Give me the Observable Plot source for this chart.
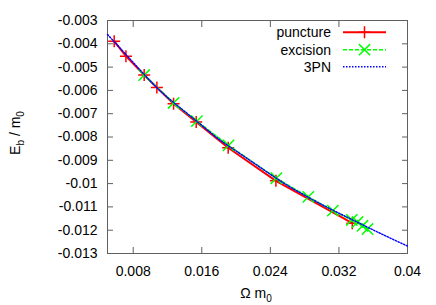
<!DOCTYPE html>
<html><head><meta charset="utf-8">
<script src="https://cdn.jsdelivr.net/npm/d3@7"></script>
<script src="https://cdn.jsdelivr.net/npm/@observablehq/plot@0.6"></script>
<style>body{margin:0;background:#fff} svg{font-family:"Liberation Sans",Arial,sans-serif}</style>
</head><body><div id="chart"></div>
<script>
const xTicks = [0.008, 0.016, 0.024, 0.032, 0.04];
const xTickLabels = ["0.008", "0.016", "0.024", "0.032", "0.04"];
const yTicks = [-0.003, -0.004, -0.005, -0.006, -0.007, -0.008, -0.009, -0.01, -0.011, -0.012, -0.013];
const yTickLabels = ["-0.003", "-0.004", "-0.005", "-0.006", "-0.007", "-0.008", "-0.009", "-0.01", "-0.011", "-0.012", "-0.013"];

const punctureX = [0.00578, 0.00715, 0.00928, 0.01076, 0.01271, 0.01535, 0.01908, 0.02465, 0.03356];
const punctureY = [-0.00389, -0.00453, -0.00534, -0.00588, -0.00657, -0.00736, -0.00846, -0.00988, -0.01170];

const excisionX = [0.00928, 0.01271, 0.01543, 0.01912, 0.0247, 0.02843, 0.03129, 0.0335, 0.03417, 0.03475, 0.03533];
const excisionY = [-0.00534, -0.00654, -0.00732, -0.00836, -0.00977, -0.01057, -0.01116, -0.01156, -0.01165, -0.01181, -0.01195];

const pnX = [0.005, 0.006, 0.008, 0.010, 0.012, 0.014, 0.016, 0.018, 0.020, 0.022, 0.024, 0.026, 0.028, 0.030, 0.032, 0.034, 0.036, 0.038, 0.040];
const pnY = [-0.0036, -0.0040, -0.0048, -0.0056, -0.0063, -0.0069, -0.0075, -0.0081, -0.0086, -0.0091, -0.0096, -0.01008, -0.01050, -0.01090, -0.01127, -0.01163, -0.01199, -0.01234, -0.01268];

const seriesNames = ["puncture", "excision", "3PN"];
const seriesColors = ["#ff0000", "#00ff00", "#0000ff"];

const zip = (xs, ys) => xs.map((x, i) => ({x, y: ys[i]}));
const puncture = zip(punctureX, punctureY);
const excision = zip(excisionX, excisionY);
const pn = zip(pnX, pnY);

const plus = {draw(ctx, size) {const r = Math.sqrt(size / Math.PI); ctx.moveTo(-r, 0); ctx.lineTo(r, 0); ctx.moveTo(0, -r); ctx.lineTo(0, r);}};
const times = {draw(ctx, size) {const r = Math.sqrt(size / Math.PI) * 0.7071; ctx.moveTo(-r, -r); ctx.lineTo(r, r); ctx.moveTo(-r, r); ctx.lineTo(r, -r);}};

const gray = "#606060";
const chart = Plot.plot({
  width: 436, height: 305,
  marginLeft: 107, marginRight: 29, marginTop: 20, marginBottom: 52,
  style: {fontFamily: '"Liberation Sans", Arial, sans-serif', fontSize: "14px", color: "#000", background: "#fff"},
  x: {domain: [0.005, 0.04], label: null},
  y: {domain: [-0.013, -0.003], label: null},
  marks: [
    Plot.axisX({ticks: xTicks, tickFormat: d => xTickLabels[xTicks.indexOf(d)], tickSize: 0, tickPadding: 13, fontSize: 14, label: null}),
    Plot.axisX({ticks: xTicks, tickFormat: () => "", tickSize: -6, stroke: gray, label: null}),
    Plot.axisX({anchor: "top", ticks: xTicks, tickFormat: () => "", tickSize: -6, stroke: gray, label: null}),
    Plot.axisY({ticks: yTicks, tickFormat: d => yTickLabels[yTicks.indexOf(d)], tickSize: 0, tickPadding: 10, fontSize: 14, label: null}),
    Plot.axisY({ticks: yTicks, tickFormat: () => "", tickSize: -6, stroke: gray, label: null}),
    Plot.axisY({anchor: "right", ticks: yTicks, tickFormat: () => "", tickSize: -6, stroke: gray, label: null}),
    Plot.frame({stroke: gray}),
    Plot.line(puncture, {x: "x", y: "y", stroke: seriesColors[0], strokeWidth: 2}),
    Plot.dot(puncture, {x: "x", y: "y", symbol: plus, r: 6, stroke: seriesColors[0], strokeWidth: 1.5}),
    Plot.line(excision, {x: "x", y: "y", stroke: seriesColors[1], strokeWidth: 1.5, strokeDasharray: "4,2"}),
    Plot.dot(excision, {x: "x", y: "y", symbol: times, r: 8, stroke: seriesColors[1], strokeWidth: 1.5}),
    Plot.line(pn, {x: "x", y: "y", stroke: seriesColors[2], strokeWidth: 1.4, strokeDasharray: "1.5,1.5", curve: "monotone-x"})
  ]
});
document.getElementById("chart").appendChild(chart);

const svg = d3.select(chart);
// axis titles
const yl = svg.append("text").attr("transform", "translate(20,133) rotate(-90)").attr("text-anchor", "middle").attr("font-size", 14).attr("fill", "#000");
yl.append("tspan").text("E");
yl.append("tspan").attr("font-size", 10).attr("dy", 4).text("b");
yl.append("tspan").attr("dy", -4).text(" / m");
yl.append("tspan").attr("font-size", 10).attr("dy", 4).text("0");
const xl = svg.append("text").attr("x", 256).attr("y", 298).attr("text-anchor", "middle").attr("font-size", 14).attr("fill", "#000");
xl.append("tspan").text("Ω m");
xl.append("tspan").attr("font-size", 10).attr("dy", 4).text("0");

// legend
const legendRows = [32.3, 49.7, 66.7];
const dashes = [null, "4,2", "1.5,1.5"];
seriesNames.forEach((name, i) => {
  const g = svg.append("g");
  g.append("text").attr("x", 331).attr("y", legendRows[i]).attr("dy", "0.35em").attr("text-anchor", "end").attr("font-size", 14).attr("fill", "#000").text(name);
  g.append("line").attr("x1", 343).attr("x2", 386).attr("y1", legendRows[i]).attr("y2", legendRows[i])
    .attr("stroke", seriesColors[i]).attr("stroke-width", i === 0 ? 2 : 1.5).attr("stroke-dasharray", dashes[i]);
  const cx = 364.5, cy = legendRows[i];
  if (i === 0) g.append("path").attr("d", `M${cx-6},${cy}H${cx+6}M${cx},${cy-6}V${cy+6}`).attr("stroke", seriesColors[0]).attr("stroke-width", 1.5);
  if (i === 1) g.append("path").attr("d", `M${cx-5.6},${cy-5.6}L${cx+5.6},${cy+5.6}M${cx-5.6},${cy+5.6}L${cx+5.6},${cy-5.6}`).attr("stroke", seriesColors[1]).attr("stroke-width", 1.5);
});
</script></body></html>
